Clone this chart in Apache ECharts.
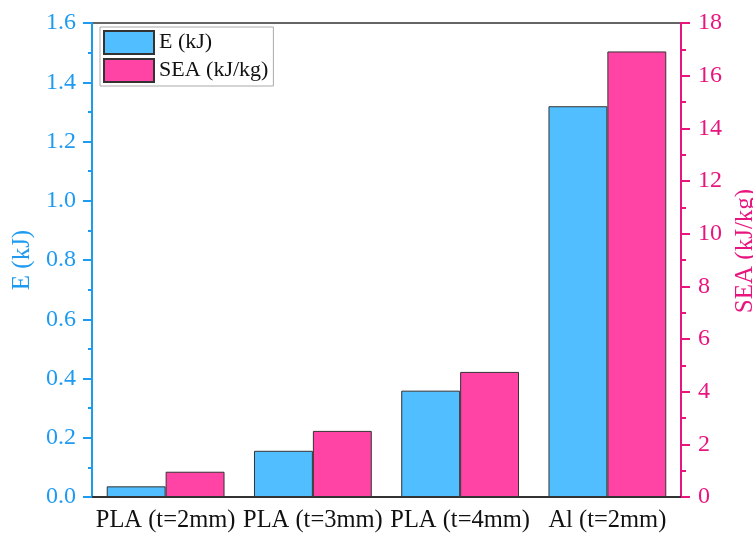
<!DOCTYPE html>
<html>
<head>
<meta charset="utf-8">
<script src="https://cdn.jsdelivr.net/npm/echarts@6/dist/echarts.min.js"></script>
<style>html,body{margin:0;padding:0;background:#fff}#c{width:753px;height:536px}</style>
</head>
<body>
<div id="c"></div>
<script>
const categories = ['PLA (t=2mm)', 'PLA (t=3mm)', 'PLA (t=4mm)', 'Al (t=2mm)'];
const energyKJ = [0.036, 0.156, 0.359, 1.319];
const seaKJkg = [0.96, 2.51, 4.75, 16.92];
const seriesNames = ['E (kJ)', 'SEA (kJ/kg)'];

const FONT = "'Liberation Serif', 'Times New Roman', serif";
const BLUE_AXIS = '#1E9BF0';
const PINK_AXIS = '#E8157F';
const chart = echarts.init(document.getElementById('c'));
chart.setOption({
  animation: false,
  backgroundColor: '#fff',
  textStyle: { fontFamily: FONT },
  grid: { left: 92, right: 72, top: 23, bottom: 39, containLabel: false, outerBoundsMode: 'none', show: true, borderColor: '#333', borderWidth: 1.5, backgroundColor: 'transparent' },
  legend: {
    orient: 'vertical', left: 100, top: 27,
    itemWidth: 50, itemHeight: 23, itemGap: 3,
    padding: [3, 5, 3, 3],
    icon: 'rect',
    borderColor: '#aaa', borderWidth: 1,
    textStyle: { fontFamily: FONT, fontSize: 22, color: '#111' },
    data: seriesNames
  },
  xAxis: {
    type: 'category', data: categories,
    axisLine: { lineStyle: { color: '#222', width: 1.5 } },
    axisTick: { alignWithLabel: true, length: 9, lineStyle: { color: '#222', width: 1.5 } },
    axisLabel: { fontFamily: FONT, fontSize: 24.5, color: '#111', margin: 11, interval: 0 }
  },
  yAxis: [
    {
      type: 'value', min: 0, max: 1.6, interval: 0.2, position: 'left',
      name: 'E (kJ)', nameLocation: 'middle', nameGap: 56, nameRotate: 90,
      nameTextStyle: { fontFamily: FONT, fontSize: 25, color: BLUE_AXIS },
      axisLine: { show: true, lineStyle: { color: BLUE_AXIS, width: 2 } },
      axisTick: { show: true, length: 9, lineStyle: { color: BLUE_AXIS, width: 2 } },
      minorTick: { show: true, splitNumber: 2, length: 4, lineStyle: { color: BLUE_AXIS, width: 2 } },
      axisLabel: { fontFamily: FONT, fontSize: 24, color: BLUE_AXIS, margin: 16, formatter: v => v.toFixed(1) },
      splitLine: { show: false }
    },
    {
      type: 'value', min: 0, max: 18, interval: 2, position: 'right',
      name: 'SEA (kJ/kg)', nameLocation: 'middle', nameGap: 50, nameRotate: 90,
      nameTextStyle: { fontFamily: FONT, fontSize: 25, color: PINK_AXIS, padding: [0, 0, 0, 18] },
      axisLine: { show: true, lineStyle: { color: PINK_AXIS, width: 2 } },
      axisTick: { show: true, length: 9, lineStyle: { color: PINK_AXIS, width: 2 } },
      minorTick: { show: true, splitNumber: 2, length: 5, lineStyle: { color: PINK_AXIS, width: 2 } },
      axisLabel: { fontFamily: FONT, fontSize: 24, color: PINK_AXIS, margin: 17 },
      splitLine: { show: false }
    }
  ],
  series: [
    {
      name: seriesNames[0], type: 'bar', yAxisIndex: 0, data: energyKJ,
      barGap: '0%', barCategoryGap: '20%',
      itemStyle: { color: '#50BEFF', borderColor: '#333', borderWidth: 1 }
    },
    {
      name: seriesNames[1], type: 'bar', yAxisIndex: 1, data: seaKJkg,
      barGap: '0%', barCategoryGap: '20%',
      itemStyle: { color: '#FF44A6', borderColor: '#333', borderWidth: 1 }
    }
  ]
});
</script>
</body>
</html>
